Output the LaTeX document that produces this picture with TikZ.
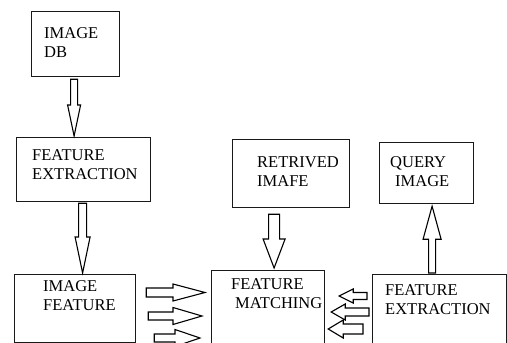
\documentclass[tikz,border=0pt]{standalone}
\usepackage{fontspec}
\setmainfont{Liberation Serif}
\usetikzlibrary{calc}

% block arrow: from, to, shaft half width, head half width, head length
\newcommand\blockarrow[5]{%
  \coordinate (ba-h) at ($(#2)!#5!(#1)$);
  \draw[blockarrow] ($(#1)!#3!90:(#2)$) -- ($(ba-h)!#3!90:(#2)$)
    -- ($(ba-h)!#4!90:(#2)$) -- (#2) -- ($(ba-h)!#4!-90:(#2)$)
    -- ($(ba-h)!#3!-90:(#2)$) -- ($(#1)!#3!-90:(#2)$) -- cycle;}

\tikzset{
  box/.style={draw=black!90,line width=1.2pt,rectangle,anchor=north west,inner sep=0pt},
  lbl/.style={anchor=north west,inner sep=0pt,align=left,font={\fontsize{16.5}{19}\selectfont}},
  blockarrow/.style={draw=black,line width=1.1pt,fill=white,line join=miter}
}

\begin{document}
\begin{tikzpicture}[x=1pt,y=-1pt]
\useasboundingbox (0,0) rectangle (507,343);

% boxes
\node[box,minimum width=88pt,minimum height=65pt] (db) at (31,11) {};
\node[box,minimum width=134pt,minimum height=64pt] (fel) at (16,137) {};
\node[box,minimum width=121pt,minimum height=68pt] (if) at (14,274) {};
\node[box,minimum width=117pt,minimum height=68pt] (ri) at (232,139) {};
\node[box,minimum width=94pt,minimum height=61pt] (qi) at (379,142) {};
\node[box,minimum width=113pt,minimum height=76pt] (fm) at (211,270) {};
\node[box,minimum width=134pt,minimum height=72pt] (fer) at (372,274) {};

% texts
\node[lbl] (dbtxt) at ($(db.north west)+(13,16)$) {IMAGE\\DB};
\node[lbl] (feltxt) at ($(fel.north west)+(16,12)$) {FEATURE\\EXTRACTION};
\node[lbl] (iftxt) at ($(if.north west)+(29,6)$) {IMAGE\\FEATURE};
\node[lbl] (ritxt) at ($(ri.north west)+(25,17)$) {RETRIVED\\IMAFE};
\node[lbl] (qitxt) at ($(qi.north west)+(11,14)$) {QUERY\\\hspace*{5pt}IMAGE};
\node[lbl] (fmtxt) at ($(fm.north west)+(20,8)$) {FEATURE\\\hspace*{4pt}MATCHING};
\node[lbl] (fertxt) at ($(fer.north west)+(13,10)$) {FEATURE\\EXTRACTION};

% vertical arrows
\coordinate (a1s) at ($(db.south)+(-1.5,2)$);
\coordinate (a1e) at ($(db.south |- fel.north)+(-1.5,-1)$);
\blockarrow{a1s}{a1e}{3.5pt}{6.5pt}{31pt}
\coordinate (a2s) at ($(fel.south)+(-1,1)$);
\coordinate (a2e) at ($(fel.south |- if.north)+(-1,-1)$);
\blockarrow{a2s}{a2e}{4pt}{7.5pt}{36pt}
\coordinate (a3s) at ($(ri.south)+(-17,6)$);
\coordinate (a3e) at ($(ri.south |- fm.north)+(-17,-2)$);
\blockarrow{a3s}{a3e}{5.5pt}{11pt}{29pt}
\coordinate (a4s) at ($(fer.north)+(-7.5,-1)$);
\coordinate (a4e) at ($(fer.north |- qi.south)+(-7.5,2)$);
\blockarrow{a4s}{a4e}{3.5pt}{9pt}{33pt}

% arrows into matching
\coordinate (r1s) at ($(if.north east)+(10,18.5)$);
\coordinate (r1e) at ($(r1s -| fm.west)+(-6,0)$);
\blockarrow{r1s}{r1e}{4.5pt}{8.5pt}{32pt}
\coordinate (r2s) at ($(if.north east)+(12,42)$);
\coordinate (r2e) at ($(r2s -| fm.west)+(-9,0)$);
\blockarrow{r2s}{r2e}{4pt}{8.5pt}{29pt}
\coordinate (r3s) at ($(if.north east)+(18,64)$);
\coordinate (r3e) at ($(r3s -| fm.west)+(-11,0)$);
\blockarrow{r3s}{r3e}{4pt}{8.5pt}{25pt}

\coordinate (l1s) at ($(fer.north west)+(-5,22)$);
\coordinate (l1e) at ($(l1s -| fm.east)+(14,0)$);
\blockarrow{l1s}{l1e}{3.5pt}{7pt}{14pt}
\coordinate (l2s) at ($(fer.north west)+(-3,38)$);
\coordinate (l2e) at ($(l2s -| fm.east)+(6,0)$);
\blockarrow{l2s}{l2e}{4pt}{8pt}{14pt}
\coordinate (l3s) at ($(fer.north west)+(-9,55)$);
\coordinate (l3e) at ($(l3s -| fm.east)+(3,0)$);
\blockarrow{l3s}{l3e}{5pt}{9pt}{15pt}

\end{tikzpicture}
\end{document}
